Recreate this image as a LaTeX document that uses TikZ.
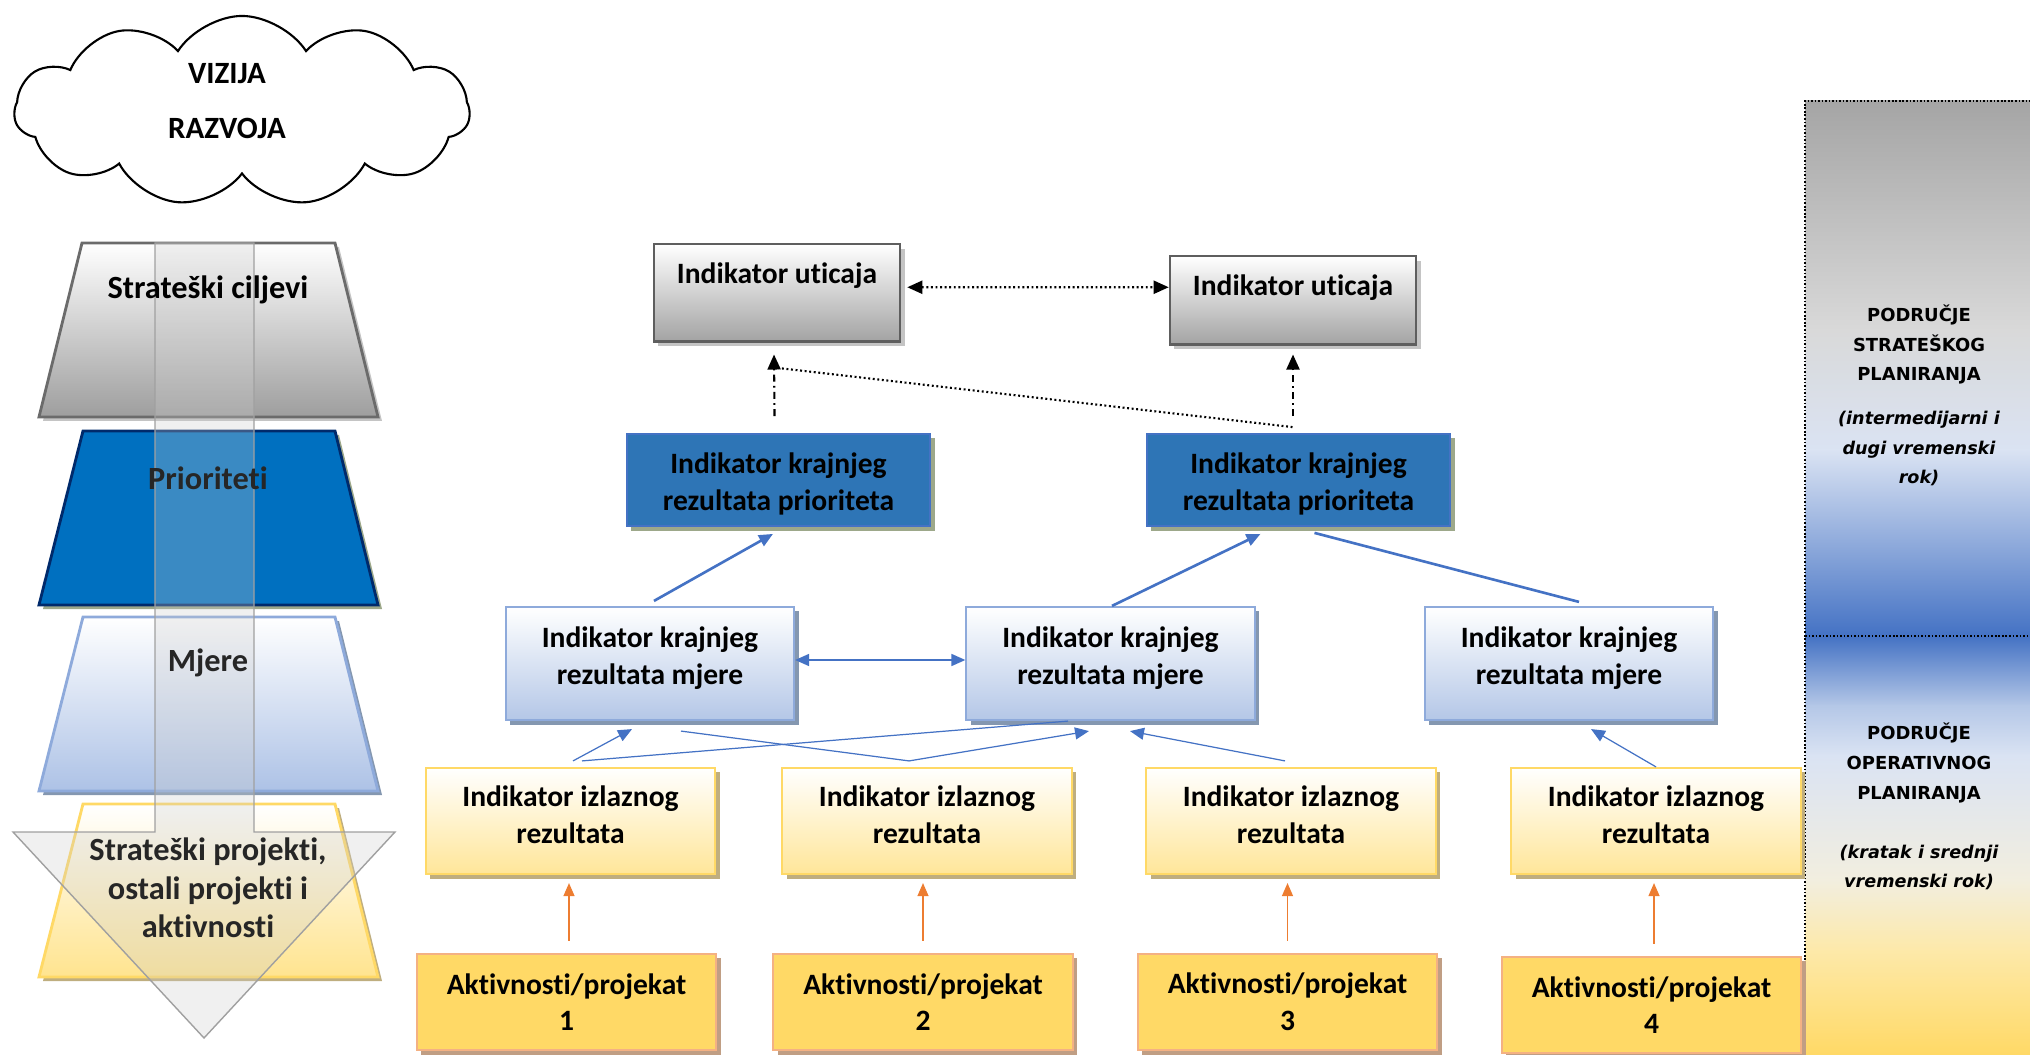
\documentclass[tikz,border=0pt]{standalone}
\usepackage{fontspec}
\setmainfont{Carlito}[Ligatures={NoCommon,NoContextual}]
\newfontfamily\panelfont{DejaVu Sans}
\usetikzlibrary{arrows.meta,calc,shapes.symbols,shadows}

% palette
\definecolor{utBot}{HTML}{A3A3A3}
\definecolor{utBorder}{HTML}{5E5E5E}
\definecolor{utShadow}{HTML}{C4C4C4}
\definecolor{prFill}{HTML}{2E75B6}
\definecolor{prBorder}{HTML}{4472C4}
\definecolor{prShadow}{HTML}{9DA88A}
\definecolor{mjBot}{HTML}{B4C7E7}
\definecolor{mjBorder}{HTML}{8EAADB}
\definecolor{mjShadow}{HTML}{8497B0}
\definecolor{izBot}{HTML}{FFE699}
\definecolor{izBorder}{HTML}{FFD966}
\definecolor{izShadow}{HTML}{BFAE7F}
\definecolor{akFill}{HTML}{FFD966}
\definecolor{akBorder}{HTML}{F4B183}
\definecolor{akShadow}{HTML}{C09E84}
\definecolor{cBlue}{HTML}{4472C4}
\definecolor{cOrange}{HTML}{ED7D31}
\definecolor{scBot}{HTML}{9E9E9E}
\definecolor{scBorder}{HTML}{6B6B6B}
\definecolor{priFill}{HTML}{0070C0}
\definecolor{priBorder}{HTML}{002A6B}
\definecolor{mjTrBot}{HTML}{ADC2E6}
\definecolor{ylBot}{HTML}{FFE48F}
\definecolor{arrowFill}{HTML}{CBCBCB}
\definecolor{arrowLine}{HTML}{A0A0A0}
\definecolor{darkText}{HTML}{262626}
\definecolor{pA}{HTML}{A5A5A5}
\definecolor{pB}{HTML}{D9D9D9}
\definecolor{pC}{HTML}{DAE3F3}
\definecolor{pD}{HTML}{4472C4}
\definecolor{pE}{HTML}{B4C7E7}
\definecolor{pF}{HTML}{F2EEDF}
\definecolor{pG}{HTML}{FDE9A9}
\definecolor{pH}{HTML}{FFD966}

\begin{document}
\begin{tikzpicture}[x=0.01cm,y=-0.01cm,
  boxfont/.style={font=\fontsize{8.4}{10.4}\selectfont\bfseries},
  trapfont/.style={font=\fontsize{9.2}{10.9}\selectfont\bfseries},
  panelcaps/.style={font=\panelfont\fontsize{5.1}{8.5}\selectfont\bfseries, align=center},
  panelital/.style={font=\panelfont\fontsize{5}{8.5}\selectfont\bfseries\itshape, align=center},
  base/.style={rectangle, inner sep=0pt, align=center, boxfont},
  % text placed as a label so it can sit off the box centre
  boxtext/.style={label={[boxfont, align=center, yshift=#1]center:}},
  utbox/.style={base, draw=utBorder, line width=0.7pt, top color=white, bottom color=utBot,
    minimum width=2.46cm,
    drop shadow={shadow xshift=0.045cm, shadow yshift=-0.045cm, fill=utShadow, opacity=1}},
  prbox/.style={base, draw=prBorder, line width=0.5pt, fill=prFill,
    minimum width=3.03cm, minimum height=0.92cm,
    drop shadow={shadow xshift=0.045cm, shadow yshift=-0.045cm, fill=prShadow, opacity=1}},
  mjbox/.style={base, draw=mjBorder, line width=0.6pt, top color=white, bottom color=mjBot,
    minimum width=2.88cm, minimum height=1.13cm,
    drop shadow={shadow xshift=0.045cm, shadow yshift=-0.045cm, fill=mjShadow, opacity=1}},
  izbox/.style={base, draw=izBorder, line width=0.6pt, top color=white, bottom color=izBot,
    minimum width=2.89cm, minimum height=1.06cm,
    drop shadow={shadow xshift=0.045cm, shadow yshift=-0.045cm, fill=izShadow, opacity=1}},
  akbox/.style={base, draw=akBorder, line width=0.6pt, fill=akFill,
    minimum width=2.99cm, minimum height=0.96cm,
    drop shadow={shadow xshift=0.045cm, shadow yshift=-0.045cm, fill=akShadow, opacity=1}},
  blacktip/.style={-{Triangle[length=0.15cm,width=0.13cm]}},
  dotline/.style={line width=0.6pt, dash pattern=on 0.55pt off 0.75pt},
  dashdotline/.style={line width=0.6pt, dash pattern=on 2pt off 1.2pt on 0.5pt off 1.2pt},
  thickblue/.style={draw=cBlue, line width=0.75pt},
  thinblue/.style={draw=cBlue, line width=0.35pt},
  bluetip/.style={-{Triangle[length=0.14cm,width=0.12cm]}},
  orangearr/.style={draw=cOrange, line width=0.35pt, -{Triangle[length=0.13cm,width=0.11cm]}},
  panelborder/.style={line width=0.7pt, dash pattern=on 0.45pt off 0.55pt},
]
\useasboundingbox (0,0) rectangle (2030,1055);

% ---------- vision cloud ----------
\node[cloud, draw, line width=0.6pt, cloud puffs=11, cloud puff arc=115, aspect=2.4,
      minimum width=4.55cm, minimum height=1.9cm, inner sep=0pt] (vision) at (242,111) {};
\node[font=\fontsize{8.8}{10.6}\selectfont\bfseries, align=center] (visiontext) at (227,101)
  {VIZIJA\\[4.8pt]RAZVOJA};

% ---------- hierarchy trapezoids ----------
\fill[utShadow] (86,247) -- (339,247) -- (382,421) -- (43,421) -- cycle;
\shade[top color=white, bottom color=scBot] (82,243) -- (335,243) -- (378,417) -- (39,417) -- cycle;
\draw[scBorder, line width=0.8pt] (82,243) -- (335,243) -- (378,417) -- (39,417) -- cycle;

\fill[prShadow] (87,435) -- (339,435) -- (382,609) -- (43,609) -- cycle;
\fill[priFill] (83,431) -- (335,431) -- (378,605) -- (39,605) -- cycle;
\draw[priBorder, line width=0.8pt] (83,431) -- (335,431) -- (378,605) -- (39,605) -- cycle;

\fill[mjShadow] (87,621) -- (339,621) -- (382,795) -- (43,795) -- cycle;
\shade[top color=white, bottom color=mjTrBot] (83,617) -- (335,617) -- (378,791) -- (39,791) -- cycle;
\draw[mjBorder, line width=0.8pt] (83,617) -- (335,617) -- (378,791) -- (39,791) -- cycle;

\fill[izShadow] (87,808) -- (339,808) -- (382,981) -- (43,981) -- cycle;
\shade[top color=white, bottom color=ylBot] (83,804) -- (335,804) -- (378,977) -- (39,977) -- cycle;
\draw[izBorder, line width=0.8pt] (83,804) -- (335,804) -- (378,977) -- (39,977) -- cycle;

% translucent downward arrow over the layers
\fill[arrowFill, fill opacity=0.29] (155,243) -- (254,243) -- (254,832) -- (395,832) -- (204,1038) -- (13,832) -- (155,832) -- cycle;
\draw[arrowLine, line width=0.4pt] (155,243) -- (254,243) -- (254,832) -- (395,832) -- (204,1038) -- (13,832) -- (155,832) -- cycle;

\node[trapfont] (lvlgoals) at (208,290) {Strateški ciljevi};
\node[trapfont, text=darkText] (lvlprio) at (208,478) {Prioriteti};
\node[trapfont, text=darkText] (lvlmeasures) at (208,663) {Mjere};
\node[trapfont, text=darkText, align=center] (lvlprojects) at (208,888)
  {Strateški projekti,\\ostali projekti i\\aktivnosti};

% ---------- planning horizon panel ----------
\shade[top color=pA, bottom color=pB] (1805,101) rectangle (2030,331);
\shade[top color=pB, bottom color=pC] (1805,330) rectangle (2030,451);
\shade[top color=pC, bottom color=pD] (1805,450) rectangle (2030,636);
\shade[top color=pD, bottom color=pE] (1805,636) rectangle (2030,706);
\shade[top color=pE, bottom color=pC] (1805,705) rectangle (2030,756);
\shade[top color=pC, bottom color=pF] (1805,755) rectangle (2030,881);
\shade[top color=pF, bottom color=pG] (1805,880) rectangle (2030,951);
\shade[top color=pG, bottom color=pH] (1805,950) rectangle (2030,1055);
\draw[panelborder] (1805,1055) -- (1805,101) -- (2030,101);
\draw[panelborder] (1805,636) -- (2030,636);

\node[panelcaps] (stratzone) at (1919,344.5) {PODRUČJE\\STRATEŠKOG\\PLANIRANJA};
\node[panelital] (stratterm) at (1919,448.5) {(intermedijarni i\\dugi vremenski\\rok)};
\node[panelcaps] (opzone) at (1919,763) {PODRUČJE\\OPERATIVNOG\\PLANIRANJA};
\node[panelital] (opterm) at (1919,867.5) {(kratak i srednji\\vremenski rok)};

% ---------- indicator boxes ----------
\node[utbox, anchor=north, text height=0.39cm, text depth=0.58cm] (u1) at (777,243) {Indikator uticaja};
\node[utbox, anchor=north, text height=0.39cm, text depth=0.49cm] (u2) at (1293,255) {Indikator uticaja};

\node[prbox, label={[boxfont, align=center, yshift=-0.04cm]center:Indikator krajnjeg\\rezultata prioriteta}] (p1) at (778.5,480) {};
\node[prbox, label={[boxfont, align=center, yshift=-0.04cm]center:Indikator krajnjeg\\rezultata prioriteta}] (p2) at (1298.5,480) {};

\node[mjbox, label={[boxfont, align=center, yshift=0.055cm]center:Indikator krajnjeg\\rezultata mjere}] (m1) at (650,663.5) {};
\node[mjbox, label={[boxfont, align=center, yshift=0.055cm]center:Indikator krajnjeg\\rezultata mjere}] (m2) at (1110.5,663.5) {};
\node[mjbox, label={[boxfont, align=center, yshift=0.055cm]center:Indikator krajnjeg\\rezultata mjere}] (m3) at (1569,663.5) {};

\node[izbox, label={[boxfont, align=center, yshift=0.065cm]center:Indikator izlaznog\\rezultata}] (i1) at (570.5,821) {};
\node[izbox, label={[boxfont, align=center, yshift=0.065cm]center:Indikator izlaznog\\rezultata}] (i2) at (927,821) {};
\node[izbox, label={[boxfont, align=center, yshift=0.065cm]center:Indikator izlaznog\\rezultata}] (i3) at (1291,821) {};
\node[izbox, label={[boxfont, align=center, yshift=0.065cm]center:Indikator izlaznog\\rezultata}] (i4) at (1656,821) {};

\node[akbox] (a1) at (566.5,1002) {Aktivnosti/projekat\\1};
\node[akbox] (a2) at (923,1002) {Aktivnosti/projekat\\2};
\node[akbox] (a3) at (1287.5,1002) {Aktivnosti/projekat\\3};
\node[akbox] (a4) at (1651.5,1005) {Aktivnosti/projekat\\4};

% ---------- connectors ----------
\draw[dotline, {Triangle[length=0.15cm,width=0.13cm]}-{Triangle[length=0.15cm,width=0.13cm]}]
  ($(u1.east)+(6,-5.5)$) -- ($(u2.west)+(0,-13)$);
\draw[dashdotline, blacktip] ($(p1.north)+(-4,-17)$) -- ($(u1.south)+(-3,12)$);
\draw[dashdotline, blacktip] ($(p2.north)+(-5.5,-17)$) -- ($(u2.south)+(0,9)$);
\draw[dotline] ($(p2.north)+(-6,-6)$) -- ($(u1.south)+(-3,25)$);

\draw[thickblue, bluetip] ($(m1.north)+(4,-5)$) -- ($(p1.south)+(-5.5,7)$);
\draw[thickblue, bluetip] ($(m2.north)+(1.5,0)$) -- ($(p2.south)+(-38,7)$);
\draw[thickblue] ($(m3.north)+(10,-4)$) -- ($(p2.south)+(16,6)$);
\draw[draw=cBlue, line width=0.5pt, {Triangle[length=0.14cm,width=0.12cm]}-{Triangle[length=0.14cm,width=0.12cm]}]
  ($(m1.east)+(0,-3.5)$) -- ($(m2.west)+(0,-3.5)$);

\draw[thinblue, bluetip] ($(i1.north)+(2.5,-6)$) -- ($(m1.south)+(-18,8)$);
\draw[thinblue] ($(i1.north)+(11.5,-6)$) -- ($(m2.south)+(-42.5,0)$);
\draw[thinblue] ($(i2.north)+(-18,-6)$) -- ($(m1.south)+(31,10)$);
\draw[thinblue, bluetip] ($(i2.north)+(-18,-6)$) -- ($(m2.south)+(-21.5,10)$);
\draw[thinblue, bluetip] ($(i3.north)+(-6,-6)$) -- ($(m2.south)+(19.5,10)$);
\draw[thinblue, bluetip] ($(i4.north)+(0,0)$) -- ($(m3.south)+(22,8)$);

\draw[orangearr] ($(a1.north)+(2.5,-12)$) -- ($(a1.north |- i1.south)+(2.5,8)$);
\draw[orangearr] ($(a2.north)+(0,-12)$) -- ($(a2.north |- i2.south)+(0,8)$);
\draw[orangearr] ($(a3.north)+(0,-12)$) -- ($(a3.north |- i3.south)+(0,8)$);
\draw[orangearr] ($(a4.north)+(2.5,-12)$) -- ($(a4.north |- i4.south)+(2.5,8)$);
\end{tikzpicture}
\end{document}
